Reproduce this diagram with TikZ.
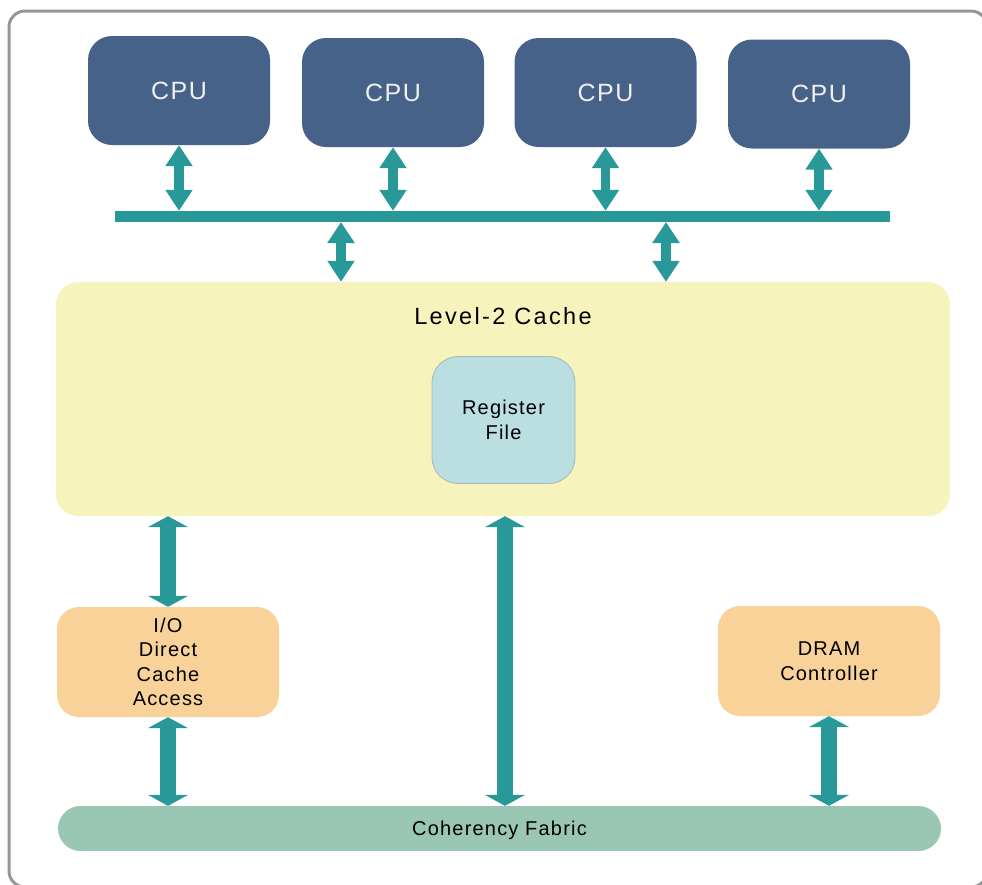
\documentclass[tikz,border=0pt]{standalone}
\usepackage{fontspec}
\setmainfont{Liberation Sans}
\newfontfamily\labfont[LetterSpace=6]{Liberation Sans}
\newfontfamily\widefont[LetterSpace=10]{Liberation Sans}
\usetikzlibrary{arrows.meta}

\definecolor{cpublue}{RGB}{71,98,137}
\definecolor{teal}{RGB}{40,152,152}
\definecolor{cacheyellow}{RGB}{246,244,188}
\definecolor{regblue}{RGB}{187,222,224}
\definecolor{regedge}{RGB}{165,182,188}
\definecolor{unitorange}{RGB}{248,210,152}
\definecolor{fabricgreen}{RGB}{154,198,180}
\definecolor{framegray}{RGB}{150,150,150}

\tikzset{
  box/.style={rounded corners=24pt, inner sep=0pt, align=center},
  cpubox/.style={box, fill=cpublue, text=white!94!black, minimum width=182pt,
    minimum height=109pt, font=\labfont\fontsize{25}{30}\selectfont},
  unitbox/.style={box, rounded corners=22pt, fill=unitorange, minimum width=222pt,
    minimum height=110pt, font=\labfont\fontsize{20}{24.5}\selectfont},
  smallarrow/.style={draw=teal, line width=9.5pt,
    {Triangle[width=26pt,length=21pt]}-{Triangle[width=26pt,length=21pt]}},
  bigarrow/.style={draw=teal, line width=16pt,
    {Triangle[width=40pt,length=11pt]}-{Triangle[width=40pt,length=11pt]}},
}

\begin{document}
\begin{tikzpicture}[x=1pt,y=-1pt]
\useasboundingbox (0,0) rectangle (982,884);
\clip (0,0) rectangle (982,884);

% outer frame
\draw[framegray, line width=3pt, rounded corners=16pt] (9,11) rectangle (987,887);

% processors
\node[cpubox] (cpu1) at (179,90.5) {CPU};
\node[cpubox] (cpu2) at (393,92.5) {CPU};
\node[cpubox] (cpu3) at (605.5,92.5) {CPU};
\node[cpubox] (cpu4) at (819,94) {CPU};

% shared bus
\node[fill=teal, inner sep=0pt, minimum width=775pt, minimum height=11pt] (bus) at (502.5,216.5) {};
\coordinate (tapA) at (341,222);
\coordinate (tapB) at (666,222);

% level-2 cache
\node[box, rounded corners=22pt, fill=cacheyellow, minimum width=894pt, minimum height=234pt] (l2) at (503,399) {};
\node[font=\widefont\fontsize{23.5}{28}\selectfont] (l2lab) at (503,316.5) {Level-2 Cache};
\node[box, rounded corners=26pt, fill=regblue, draw=regedge, line width=0.8pt,
  minimum width=143pt, minimum height=127pt, font=\labfont\fontsize{20}{25}\selectfont] (reg) at (503.5,420) {Register\\File};

% I/O and memory units
\node[unitbox] (io) at (168,662) {I/O\\Direct\\Cache\\Access};
\node[unitbox] (dram) at (829,661) {DRAM\\Controller};

% coherency fabric
\node[fill=fabricgreen, rounded corners=22.5pt, inner sep=0pt, minimum width=883pt, minimum height=45pt] (fabric) at (499.5,828.5) {};
\node[font=\labfont\fontsize{20}{24}\selectfont] (fablab) at (499.5,830) {Coherency Fabric};

% CPU to bus links
\foreach \c in {cpu1,cpu2,cpu3,cpu4}
  \draw[smallarrow] (\c.south) -- (\c.south |- bus.north);

% bus to cache links
\draw[smallarrow] (tapA) -- (tapA |- l2.north);
\draw[smallarrow] (tapB) -- (tapB |- l2.north);

% cache, units and fabric links
\draw[bigarrow] (io.north |- l2.south) -- (io.north);
\draw[bigarrow] (io.south) -- (io.south |- fabric.north);
\draw[bigarrow] ([xshift=2pt]l2.south) -- ([xshift=2pt]l2.south |- fabric.north);
\draw[bigarrow] (dram.south) -- (dram.south |- fabric.north);
\end{tikzpicture}
\end{document}
